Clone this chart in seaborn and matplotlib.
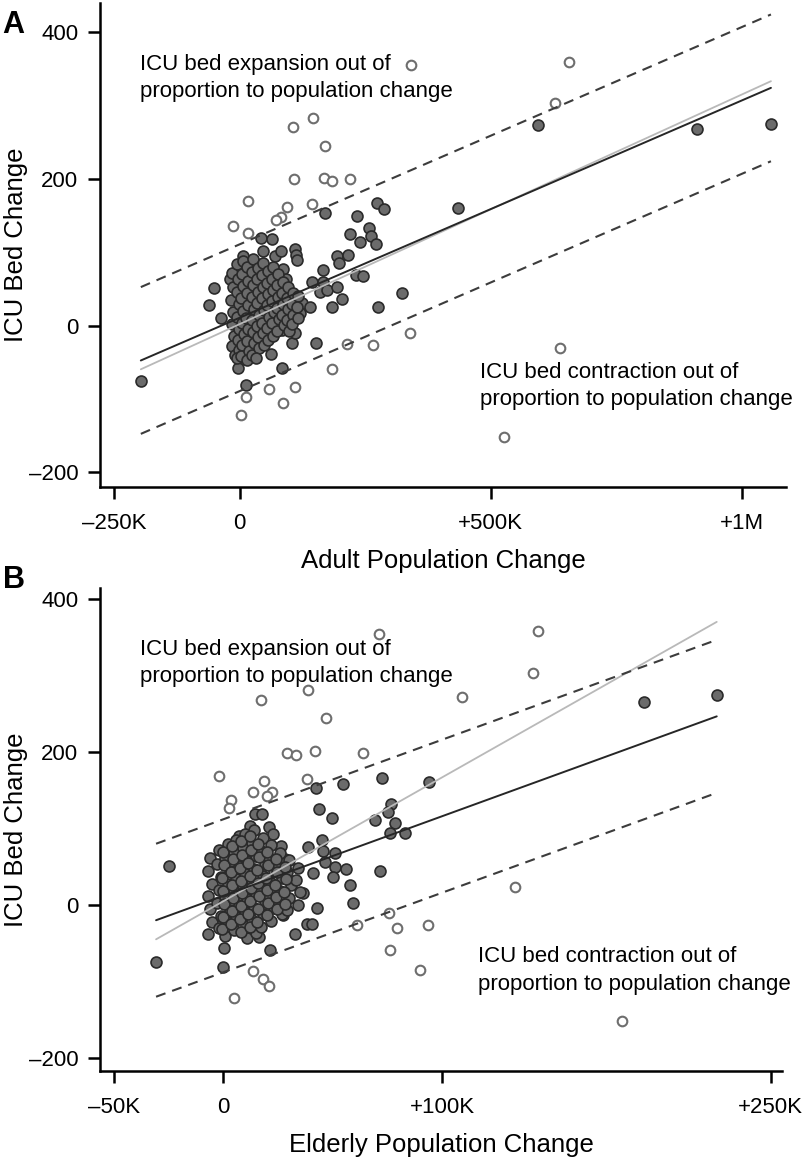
import numpy as np
import pandas as pd
import seaborn as sns
import matplotlib.pyplot as plt

sns.set_style("ticks")
plt.rcParams["font.family"] = ["Liberation Sans", "DejaVu Sans"]
plt.rcParams["text.color"] = "black"
plt.rcParams["axes.labelcolor"] = "black"
plt.rcParams["xtick.color"] = "black"
plt.rcParams["ytick.color"] = "black"

# ---- panel A: adult population change (thousands) vs ICU bed change ----
a_filled = [
    (-197, -75), (-51, 51), (-60.5, 28), (-37, 10), (-3, -58), (12.5, -81), (85, -58),
    (152, -24), (170, 154), (233, 150), (274, 167), (287.5, 159), (220, 125), (258, 133),
    (261.5, 122), (271.5, 111), (240, 114), (194, 95), (198, 86), (216, 96), (166.5, 76),
    (143, 60), (166.5, 60), (160, 46), (173, 49), (194, 53), (232, 69), (246, 67),
    (204, 36), (184.5, 25), (276, 26), (324, 45), (123.5, 30.5), (140, 25), (120, 17),
    (104, -24), (110, -10), (62, -38), (84, -6), (42, 120), (64, 118), (47, 101),
    (70, 95), (82, 101), (110, 105), (112, 96), (115, 89), (7, 95), (30.5, 86),
    (-3, 77), (-19, 63), (86, 77), (92, 63), (435.5, 160), (594, 273), (910, 268),
    (1058, 275),
    # dense cluster near the origin
    (-16, 72), (-14, 52), (-17, 35), (-13, 18), (-16, 2), (-12, -14), (-15, -28), (-10, -40),
    (-5, 84), (-3, 64), (-6, 46), (-2, 30), (-5, 12), (-1, -4), (-4, -20), (-2, -33), (-6, -44),
    (6, 88), (4, 70), (7, 54), (3, 37), (6, 20), (4, 4), (8, -12), (5, -26), (3, -41),
    (15, 80), (17, 61), (14, 45), (16, 28), (13, 11), (17, -5), (15, -21), (18, -35), (14, -47),
    (26, 91), (24, 73), (27, 56), (25, 39), (28, 23), (24, 7), (26, -9), (29, -24), (25, -40),
    (36, 79), (34, 63), (37, 46), (35, 31), (38, 14), (34, -1), (36, -16), (38, -30), (33, -44),
    (46, 86), (44, 69), (47, 52), (45, 37), (48, 21), (44, 4), (46, -10), (48, -26),
    (56, 75), (54, 58), (57, 43), (55, 28), (58, 12), (54, -3), (56, -19),
    (66, 80), (64, 63), (67, 48), (65, 33), (68, 18), (64, 3), (66, -14),
    (76, 70), (74, 55), (77, 39), (75, 24), (78, 9), (74, -7),
    (86, 60), (84, 45), (87, 30), (85, 15), (88, 1),
    (96, 52), (94, 38), (97, 22), (95, 8), (98, -8),
    (106, 45), (104, 30), (107, 15), (105, 2),
    (116, 40), (114, 25), (117, 11),
]
a_open = [
    (106.8, 270.5), (146.6, 282.7), (170, 245.4), (108.8, 199.6), (168.5, 201.8),
    (184.5, 197.3), (219.7, 199.6), (17, 170), (143.4, 166), (94.8, 161.4), (81.6, 148.6),
    (72.3, 144), (-14, 136.3), (16.5, 126), (213, -25.4), (265, -26.3), (339, -10.4),
    (183.3, -59), (110, -83), (59, -86), (12.5, -97), (85.6, -106), (2, -122),
    (340.6, 354.5), (656.6, 359.5), (627.5, 304), (638, -30.8), (526.5, -152),
]
a_fit = (10.8, 0.296)      # intercept, slope (dark line)
a_alt = (2.1, 0.3128)      # light grey line
a_band = 100

# ---- panel B: elderly population change (thousands) vs ICU bed change ----
b_filled = [
    (-24.8, 52), (-30.7, -74), (0.5, -56), (-0.3, -81), (21.5, -58), (16.3, -42),
    (32.9, -37), (38.1, -25), (40.6, -25), (27.4, -13), (42.9, -4), (36.5, 16),
    (42.3, 153), (43.6, 125.5), (49.8, 114), (54.5, 158), (72.5, 166), (94.1, 161),
    (76.7, 132), (75.1, 122), (78.6, 108), (69.4, 111.5), (76.1, 94), (83, 95),
    (38.7, 76), (45.2, 86), (45.7, 71), (51, 69), (46.4, 57), (51, 50), (55.9, 47.5),
    (40.8, 42), (50, 37), (57.9, 26), (71.5, 45), (59.4, 3), (12.2, 104), (14.5, 120),
    (17.8, 120), (7.2, 90), (20.9, 103), (22.6, 93), (26.2, 77.5), (28.2, 60),
    (192.2, 266), (225.3, 275),
    # dense cluster near the origin
    (-6, 62), (-7, 45), (-5, 28), (-7, 12), (-6, -5), (-5, -22), (-7, -38),
    (-2, 72), (-3, 54), (-1, 37), (-2, 20), (-3, 3), (-1, -14), (-2, -30),
    (2, 80), (1, 62), (3, 45), (2, 28), (1, 11), (3, -6), (2, -22), (1, -40),
    (6, 86), (5, 68), (7, 51), (6, 34), (5, 18), (7, 1), (6, -15), (5, -32),
    (10, 93), (9, 75), (11, 58), (10, 41), (9, 25), (11, 8), (10, -9), (9, -26), (11, -43),
    (14, 99), (13, 81), (15, 64), (14, 47), (13, 31), (15, 14), (14, -3), (13, -19), (15, -36),
    (18, 88), (17, 71), (19, 54), (18, 38), (17, 21), (19, 5), (18, -11), (17, -28),
    (22, 79), (21, 62), (23, 45), (22, 29), (21, 12), (23, -4), (22, -20),
    (26, 69), (25, 52), (27, 36), (26, 19), (25, 3), (27, -12),
    (30, 59), (29, 43), (31, 27), (30, 10), (29, -6),
    (34, 49), (33, 33), (35, 17), (34, 1),
    (0, 70), (0.5, 53), (-0.5, 36), (0, 19), (0.5, 2), (0, -15), (-0.5, -31),
    (4, 77), (4.5, 60), (3.5, 43), (4, 26), (4.5, 9), (4, -8), (3.5, -25),
    (8, 84), (8.5, 66), (7.5, 49), (8, 32), (8.5, 16), (8, -1), (7.5, -18), (8, -35),
    (12, 90), (12.5, 72), (11.5, 55), (12, 38), (12.5, 22), (12, 5), (11.5, -12), (12, -29),
    (16, 80), (16.5, 63), (15.5, 46), (16, 29), (16.5, 12), (16, -5), (15.5, -22),
    (20, 70), (20.5, 53), (19.5, 36), (20, 20), (20.5, 3), (20, -13),
    (24, 60), (24.5, 44), (23.5, 27), (24, 11), (24.5, -5),
    (28, 50), (28.5, 34), (27.5, 18), (28, 2),
]
b_open = [
    (17.1, 268.4), (38.8, 281.4), (46.9, 245.2), (29.2, 199.5), (33.2, 196.5), (41.9, 202),
    (63.9, 199.5), (-2, 169), (38.1, 165), (18.7, 162.5), (13.4, 148.5), (22.2, 148.5),
    (19.8, 143), (3.5, 137.6), (2.5, 127.6), (75.7, -10.5), (79.2, -30), (93.6, -26),
    (60.9, -26), (76.1, -58), (89.8, -84), (13.4, -85.5), (18, -96), (21, -105.5),
    (5, -121.6), (71.1, 354.6), (143.8, 358.6), (141.3, 303.3), (109.1, 272.7),
    (133.2, 24.4), (182, -151),
]
b_fit = (12.45, 1.041)
b_alt = (5.3, 1.621)
b_band = 100

y_ticks = [-200, 0, 200, 400]
y_ticklabels = ["\u2013200", "0", "200", "400"]
a_xticks = [-250, 0, 500, 1000]
a_xticklabels = ["\u2013250K", "0", "+500K", "+1M"]
b_xticks = [-50, 0, 100, 250]
b_xticklabels = ["\u201350K", "0", "+100K", "+250K"]

upper_note = "ICU bed expansion out of\nproportion to population change"
lower_note = "ICU bed contraction out of\nproportion to population change"


def draw_panel(ax, filled, open_, fit, alt, band, xlim, ylim, xticks, xticklabels, xlabel):
    df_f = pd.DataFrame(filled, columns=["x", "y"])
    df_o = pd.DataFrame(open_, columns=["x", "y"])
    sns.scatterplot(data=df_f, x="x", y="y", ax=ax, s=62, color="#6b6b6b",
                    edgecolor="#2a2a2a", linewidth=1.2, zorder=2)
    sns.scatterplot(data=df_o, x="x", y="y", ax=ax, s=48, color="white",
                    edgecolor="#6e6e6e", linewidth=1.5, zorder=2)

    allx = pd.concat([df_f["x"], df_o["x"]])
    xs = np.array([allx.min(), allx.max()])
    fit_y = fit[0] + fit[1] * xs
    alt_y = alt[0] + alt[1] * xs
    ax.plot(xs, alt_y, color="#b9b9b9", lw=1.3, zorder=3)
    ax.plot(xs, fit_y, color="#262626", lw=1.4, zorder=4)
    for off in (band, -band):
        ax.plot(xs, fit_y + off, color="#3c3c3c", lw=1.5, ls=(0, (4.8, 3.4)), zorder=4)

    ax.set_xlim(*xlim)
    ax.set_ylim(*ylim)
    ax.set_xticks(xticks)
    ax.set_xticklabels(xticklabels)
    ax.set_yticks(y_ticks)
    ax.set_yticklabels(y_ticklabels)
    ax.tick_params(axis="both", labelsize=16, length=8.6, width=1.8, color="black",
                   labelcolor="black")
    ax.tick_params(axis="x", pad=10)
    ax.tick_params(axis="y", pad=7)
    for side in ("left", "bottom"):
        ax.spines[side].set_linewidth(1.8)
        ax.spines[side].set_color("black")
    sns.despine(ax=ax)
    ax.set_xlabel(xlabel, fontsize=18.5, color="black")
    ax.set_ylabel("ICU Bed Change", fontsize=18.5, color="black")
    ax.xaxis.set_label_coords(0.5, -0.128)
    ax.yaxis.set_label_coords(-0.105, 0.5)

    ax.text(0.058, 0.895, upper_note, transform=ax.transAxes, fontsize=16,
            va="top", ha="left", linespacing=1.38, color="black")
    ax.text(0.554, 0.258, lower_note, transform=ax.transAxes, fontsize=16,
            va="top", ha="left", linespacing=1.38, color="black")


fig = plt.figure(figsize=(8.06, 11.6), dpi=100)
axA = fig.add_axes([100 / 806, 1 - 487 / 1160, 686 / 806, 484.3 / 1160])
axB = fig.add_axes([100 / 806, 1 - 1071 / 1160, 682 / 806, 482.7 / 1160])

draw_panel(axA, a_filled, a_open, a_fit, a_alt, a_band, (-278.3, 1088), (-219.9, 440),
           a_xticks, a_xticklabels, "Adult Population Change")
draw_panel(axB, b_filled, b_open, b_fit, b_alt, b_band, (-56.3, 255.1), (-216.6, 414.4),
           b_xticks, b_xticklabels, "Elderly Population Change")

fig.text(2 / 806, 1 - 33 / 1160, "A", fontsize=22, fontweight="bold", va="baseline")
fig.text(3 / 806, 1 - 588 / 1160, "B", fontsize=22, fontweight="bold", va="baseline")

fig.savefig("out.png", dpi=100)
